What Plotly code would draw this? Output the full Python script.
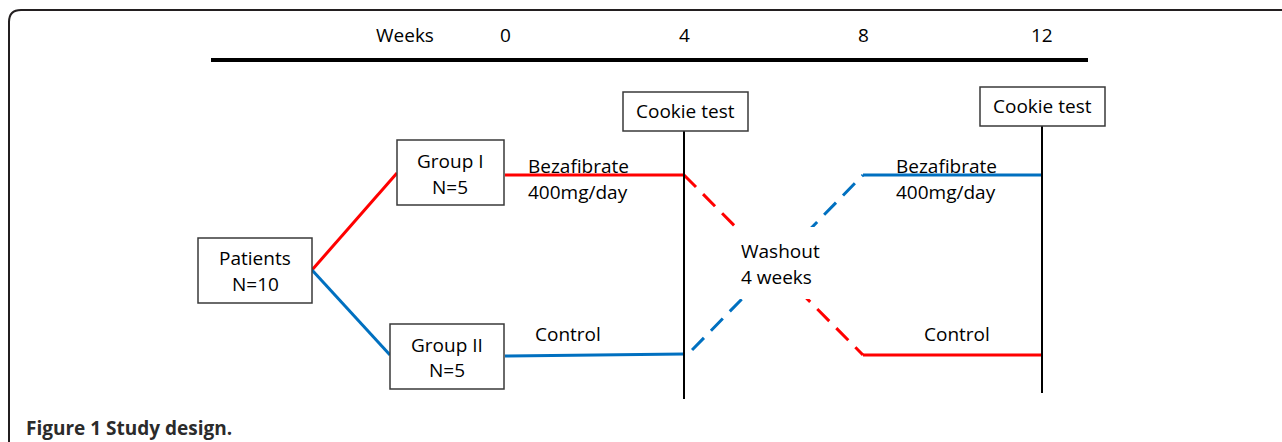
import plotly.graph_objects as go

# ---- data ----
week_ticks = [0, 4, 8, 12]
week_labels = ["0", "4", "8", "12"]
cookie_weeks = [4, 12]

# Group I: bezafibrate (weeks 0-4) -> washout -> control (weeks 8-12)
g1_treat_x = [0, 4]
g1_wash_x = [4, 8]
g1_ctrl_x = [8, 12]
# Group II: control (weeks 0-4) -> washout -> bezafibrate (weeks 8-12)
g2_ctrl_x = [0, 4]
g2_wash_x = [4.18, 8]
g2_treat_x = [8, 12]

RED = "#ff0000"
BLUE = "#0070c0"
BOX = "#3a3a3a"

# ---- layout helpers (pixel geometry of the drawing) ----
X0_PX, PX_PER_WEEK = 505, 44.75
def w(px):
    return (px - X0_PX) / PX_PER_WEEK

Y_TOP, Y_BOT = 175, 355

fig = go.Figure()

def line(x, y, color, width=3, dash="solid"):
    fig.add_trace(go.Scatter(x=x, y=y, mode="lines", hoverinfo="skip",
                             line=dict(color=color, width=width, dash=dash)))

# branches from Patients box
line([w(312), w(397)], [270, 173], RED)
line([w(312), w(390)], [270, 355], BLUE)

# Group I arm
line(g1_treat_x, [Y_TOP, Y_TOP], RED)
line(g1_wash_x, [Y_TOP, Y_BOT], RED, dash="17px,10px")
line(g1_ctrl_x, [Y_BOT, Y_BOT], RED)
# Group II arm
line(g2_ctrl_x, [356, 354], BLUE)
line(g2_wash_x, [350, Y_TOP], BLUE, dash="17px,10px")
line(g2_treat_x, [Y_TOP, Y_TOP], BLUE)

shapes = []
# frame (rounded top-left corner, open at right/bottom)
shapes.append(dict(type="path", xref="x", yref="y",
                   path=f"M {w(9)},450 L {w(9)},22 Q {w(9)},10 {w(21)},10 L {w(1290)},10",
                   line=dict(color="#231f20", width=2)))
# timeline bar
shapes.append(dict(type="line", xref="x", yref="y", x0=w(211), x1=w(1088), y0=60, y1=60,
                   line=dict(color="black", width=4)))
# washout text gap
shapes.append(dict(type="rect", xref="x", yref="y", x0=w(737), x1=w(818), y0=227, y1=299,
                   fillcolor="white", line=dict(width=0), layer="above"))
# cookie test vertical lines
shapes.append(dict(type="line", xref="x", yref="y", x0=cookie_weeks[0], x1=cookie_weeks[0],
                   y0=131, y1=399, line=dict(color="black", width=2), layer="above"))
shapes.append(dict(type="line", xref="x", yref="y", x0=cookie_weeks[1], x1=cookie_weeks[1],
                   y0=126, y1=393, line=dict(color="black", width=2), layer="above"))

def box(x0, x1, y0, y1):
    shapes.append(dict(type="rect", xref="x", yref="y", x0=w(x0), x1=w(x1), y0=y0, y1=y1,
                       fillcolor="white", line=dict(color=BOX, width=1.5), layer="above"))

box(198, 312, 238, 303)    # Patients
box(397, 504, 140, 205)    # Group I
box(390, 504, 324, 389)    # Group II
box(623, 748, 92, 131)     # Cookie test 1
box(980, 1105, 87, 126)    # Cookie test 2

ann = []
FONT = "Open Sans"
def text(t, x, y, anchor="center", size=19, color="black", bold=False):
    if bold:
        t = f"<b>{t}</b>"
    ann.append(dict(text=t, x=x, y=y, xref="x", yref="y", xanchor=anchor, yanchor="middle",
                    showarrow=False, font=dict(family=FONT, size=size, color=color)))

# header
text("Weeks", w(405), 35)
for wk, lab in zip(week_ticks, week_labels):
    text(lab, wk, 35)

text("Patients", w(255), 258)
text("N=10", w(255), 284)
text("Group I", w(450), 161)
text("N=5", w(450), 187)
text("Group II", w(447), 345)
text("N=5", w(447), 370)
text("Cookie test", w(685.5), 111)
text("Cookie test", w(1042.5), 106)
text("Bezafibrate", w(526), 166, anchor="left")
text("400mg/day", w(526), 192, anchor="left")
text("Control", w(568), 334)
text("Washout", w(739), 251, anchor="left")
text("4 weeks", w(739), 277, anchor="left")
text("Bezafibrate", w(894), 166, anchor="left")
text("400mg/day", w(894), 192, anchor="left")
text("Control", w(957), 334)
text("Figure 1 Study design.", w(24), 428, anchor="left", size=19, color="#2b2b2b", bold=True)

fig.update_layout(
    width=1282, height=442,
    margin=dict(l=0, r=0, t=0, b=0),
    paper_bgcolor="white", plot_bgcolor="white",
    showlegend=False,
    shapes=shapes, annotations=ann,
    xaxis=dict(range=[w(0), w(1282)], visible=False, fixedrange=True),
    yaxis=dict(range=[442, 0], visible=False, fixedrange=True),
)

fig.write_html("out.html", config={"displayModeBar": False},
               post_script="document.body.style.margin='0';document.body.style.overflow='hidden';")
